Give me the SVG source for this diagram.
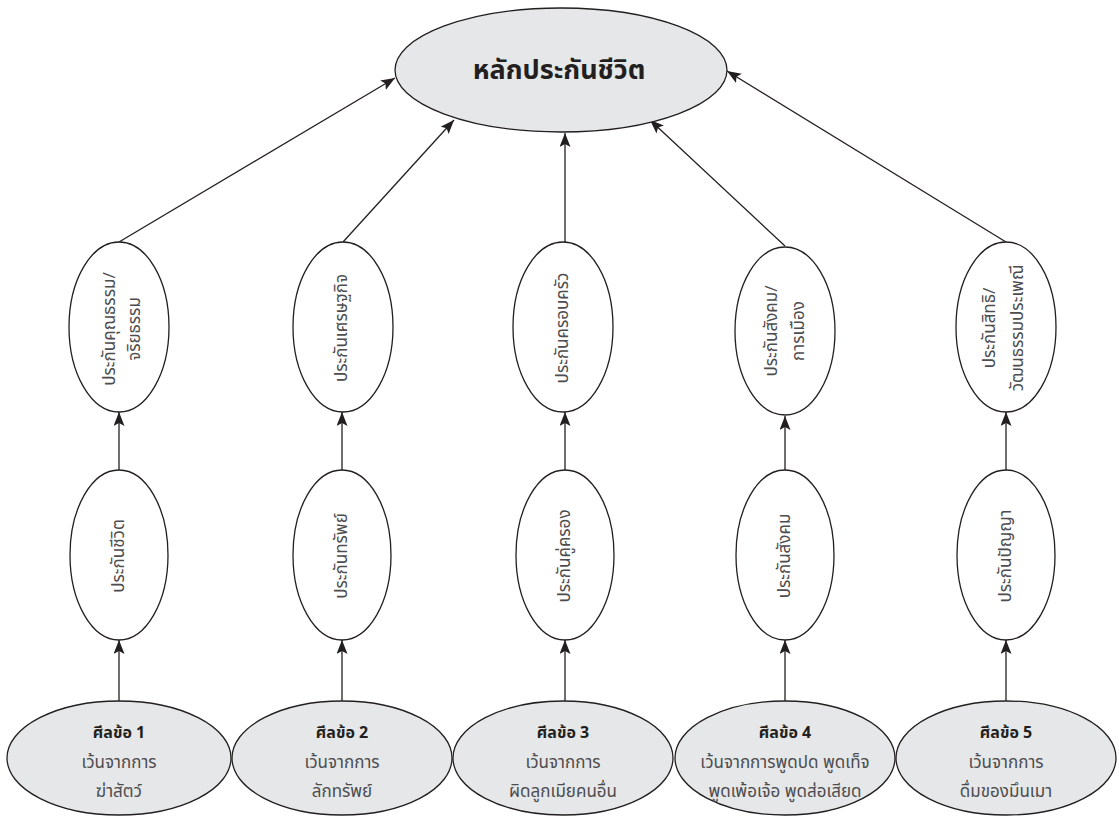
<svg xmlns="http://www.w3.org/2000/svg" width="1119" height="823" viewBox="0 0 1119 823">
<defs>
<marker id="ah" markerUnits="userSpaceOnUse" markerWidth="15" markerHeight="12" refX="14" refY="5.5" orient="auto">
<path d="M0,0 L14,5.5 L0,11 L3,5.5 Z" fill="#231f20"/>
</marker>
</defs>
<style>
.g{fill:#e6e7e8;stroke:#231f20;stroke-width:1.3}
.w{fill:#ffffff;stroke:#231f20;stroke-width:1.3}
.c{stroke:#231f20;stroke-width:1.3;fill:none;marker-end:url(#ah)}
text{font-family:"Noto Sans Thai","Noto Sans","Liberation Sans",sans-serif;text-anchor:middle}
.t{font-size:27px;font-weight:bold;fill:#231f20}
.v{font-size:17px;fill:#4d4d4f}
.b{font-size:16px;font-weight:bold;fill:#231f20}
.n{font-size:17px;fill:#4d4d4f}
</style>
<rect width="1119" height="823" fill="#ffffff"/>
<g id="connectors">
<line class="c" x1="119" y1="242" x2="395" y2="78"/>
<line class="c" x1="343" y1="242" x2="454" y2="120"/>
<line class="c" x1="565" y1="242" x2="565" y2="133"/>
<line class="c" x1="785" y1="246" x2="650" y2="120"/>
<line class="c" x1="1006" y1="242" x2="727" y2="71"/>
<line class="c" x1="119" y1="470" x2="119" y2="412"/>
<line class="c" x1="342" y1="470" x2="342" y2="412"/>
<line class="c" x1="565" y1="470" x2="565" y2="412"/>
<line class="c" x1="785" y1="470" x2="785" y2="416"/>
<line class="c" x1="1006" y1="470" x2="1006" y2="412"/>
<line class="c" x1="119" y1="701" x2="119" y2="640"/>
<line class="c" x1="342" y1="701" x2="342" y2="640"/>
<line class="c" x1="565" y1="701" x2="565" y2="640"/>
<line class="c" x1="785" y1="701" x2="785" y2="640"/>
<line class="c" x1="1006" y1="701" x2="1006" y2="640"/>
</g>
<g id="root">
<ellipse class="g" cx="561" cy="70" rx="166" ry="62"/>
<text class="t" x="559" y="79">หลักประกันชีวิต</text>
</g>
<g id="u1">
<ellipse class="w" cx="119" cy="327" rx="50" ry="85"/>
<text class="v" transform="translate(119,329) rotate(-90)"><tspan x="0" y="-4">ประกันคุณธรรม/</tspan><tspan x="0" y="21">จริยธรรม</tspan></text>
</g>
<g id="u2">
<ellipse class="w" cx="343" cy="327" rx="50" ry="85"/>
<text class="v" transform="translate(343,328) rotate(-90)" y="4">ประกันเศรษฐกิจ</text>
</g>
<g id="u3">
<ellipse class="w" cx="563" cy="327" rx="50" ry="85"/>
<text class="v" transform="translate(563,328) rotate(-90)" y="5">ประกันครอบครัว</text>
</g>
<g id="u4">
<ellipse class="w" cx="785" cy="331" rx="50" ry="84"/>
<text class="v" transform="translate(785,331) rotate(-90)"><tspan x="0" y="-8">ประกันสังคม/</tspan><tspan x="0" y="19">การเมือง</tspan></text>
</g>
<g id="u5">
<ellipse class="w" cx="1006" cy="327" rx="50" ry="85"/>
<text class="v" transform="translate(1006,328) rotate(-90)"><tspan x="0" y="-11">ประกันสิทธิ/</tspan><tspan x="0" y="17">วัฒนธรรมประเพณี</tspan></text>
</g>
<g id="m1">
<ellipse class="w" cx="119" cy="555" rx="49" ry="85"/>
<text class="v" transform="translate(119,556) rotate(-90)" y="5">ประกันชีวิต</text>
</g>
<g id="m2">
<ellipse class="w" cx="342" cy="555" rx="49" ry="85"/>
<text class="v" transform="translate(342,556) rotate(-90)" y="5">ประกันทรัพย์</text>
</g>
<g id="m3">
<ellipse class="w" cx="565" cy="555" rx="49" ry="85"/>
<text class="v" transform="translate(565,556) rotate(-90)" y="5">ประกันคู่ครอง</text>
</g>
<g id="m4">
<ellipse class="w" cx="785" cy="555" rx="49" ry="85"/>
<text class="v" transform="translate(785,556) rotate(-90)" y="5">ประกันสังคม</text>
</g>
<g id="m5">
<ellipse class="w" cx="1006" cy="555" rx="49" ry="85"/>
<text class="v" transform="translate(1006,556) rotate(-90)" y="5">ประกันปัญญา</text>
</g>
<g id="s1">
<ellipse class="g" cx="119" cy="758" rx="112" ry="57"/>
<text class="b" x="119" y="738">ศีลข้อ 1</text>
<text class="n" x="119" y="768">เว้นจากการ</text>
<text class="n" x="119" y="797">ฆ่าสัตว์</text>
</g>
<g id="s2">
<ellipse class="g" cx="342" cy="758" rx="110" ry="57"/>
<text class="b" x="342" y="738">ศีลข้อ 2</text>
<text class="n" x="342" y="768">เว้นจากการ</text>
<text class="n" x="342" y="797">ลักทรัพย์</text>
</g>
<g id="s3">
<ellipse class="g" cx="563" cy="758" rx="110" ry="57"/>
<text class="b" x="563" y="738">ศีลข้อ 3</text>
<text class="n" x="563" y="768">เว้นจากการ</text>
<text class="n" x="563" y="797">ผิดลูกเมียคนอื่น</text>
</g>
<g id="s4">
<ellipse class="g" cx="785" cy="758" rx="110" ry="57"/>
<text class="b" x="785" y="738">ศีลข้อ 4</text>
<text class="n" x="785" y="768">เว้นจากการพูดปด พูดเท็จ</text>
<text class="n" x="785" y="797">พูดเพ้อเจ้อ พูดส่อเสียด</text>
</g>
<g id="s5">
<ellipse class="g" cx="1006" cy="758" rx="110" ry="57"/>
<text class="b" x="1006" y="738">ศีลข้อ 5</text>
<text class="n" x="1006" y="768">เว้นจากการ</text>
<text class="n" x="1006" y="797">ดื่มของมึนเมา</text>
</g>
</svg>
